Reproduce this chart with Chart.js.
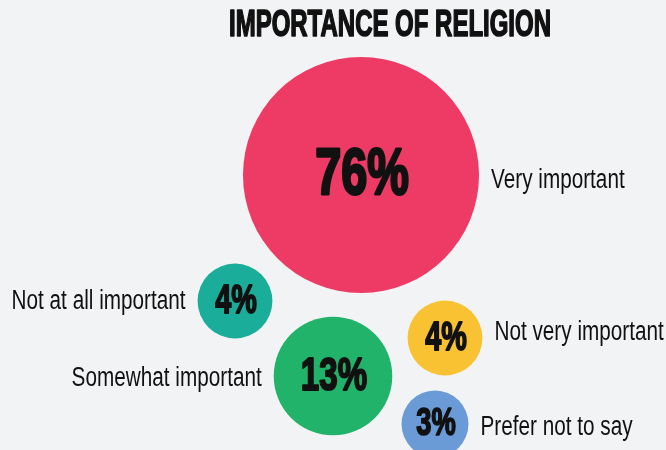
<!DOCTYPE html>
<html>
<head>
<meta charset="utf-8">
<script src="https://cdn.jsdelivr.net/npm/chart.js@4"></script>
<style>
  body { margin: 0; background: #f1f3f5; }
  #wrap { width: 666px; height: 450px; }
</style>
</head>
<body>
<div id="wrap"><canvas id="chart" width="666" height="450"></canvas></div>
<script>
const title = 'IMPORTANCE OF RELIGION';
const categories = ['Very important', 'Not at all important', 'Somewhat important', 'Not very important', 'Prefer not to say'];
const shares = [76, 4, 13, 4, 3];

// layout of the bubbles (canvas-sized units) and the side each label goes on
const bubbleX = [361, 235, 333, 445, 435];
const bubbleY = [175, 301, 376, 338, 424];
const labelSide = ['right', 'left', 'left', 'right', 'right'];
const labelDy = [5, 0, 2, -6, 3];
const colors = ['#ee3b65', '#1aae9a', '#22b36a', '#f8c233', '#6a9bd6'];

// bubble size grows with the share, but not strictly by area (as in the original)
function radiusFor(v) {
  return 21.8 * Math.pow(v, 0.39);
}

// draw text squeezed horizontally to fake a condensed face; weight adds a stroke
function drawSqueezed(ctx, text, x, y, font, sx, align, weight) {
  ctx.save();
  ctx.font = font;
  ctx.textAlign = align;
  ctx.textBaseline = 'middle';
  ctx.translate(x, y);
  ctx.scale(sx, 1);
  ctx.fillText(text, 0, 0);
  if (weight) {
    ctx.lineWidth = weight;
    ctx.lineJoin = 'round';
    ctx.strokeStyle = ctx.fillStyle;
    ctx.strokeText(text, 0, 0);
  }
  ctx.restore();
}

const textPlugin = {
  id: 'bubbleText',
  afterDatasetsDraw(chart) {
    const ctx = chart.ctx;
    ctx.save();
    ctx.fillStyle = '#111';

    // title, fitted to its width in the original
    const titleFont = 'bold 36px "Liberation Sans", Arial, sans-serif';
    ctx.font = titleFont;
    const tw = ctx.measureText(title).width;
    drawSqueezed(ctx, title, 390, 26, titleFont, 322 / tw, 'center', 1.6);

    const labelFont = '27px "Liberation Sans", Arial, sans-serif';
    ctx.font = labelFont;
    const labelScale = 174 / ctx.measureText('Not at all important').width;

    const meta = chart.getDatasetMeta(0);
    meta.data.forEach((pt, i) => {
      const r = pt.options.radius;
      const size = Math.round(28 + 0.31 * r);
      drawSqueezed(ctx, shares[i] + '%', pt.x + 1, pt.y + 1,
        'bold ' + size + 'px "Liberation Sans", Arial, sans-serif', 0.72, 'center', size / 22);

      const gap = 12;
      const ly = pt.y + 1 + labelDy[i];
      if (labelSide[i] === 'right') {
        drawSqueezed(ctx, categories[i], pt.x + r + gap, ly, labelFont, labelScale, 'left');
      } else {
        drawSqueezed(ctx, categories[i], pt.x - r - gap, ly, labelFont, labelScale, 'right');
      }
    });
    ctx.restore();
  }
};

const ctx = document.getElementById('chart').getContext('2d');
new Chart(ctx, {
  type: 'bubble',
  data: {
    datasets: [{
      label: title,
      data: categories.map((c, i) => ({ x: bubbleX[i], y: bubbleY[i], r: radiusFor(shares[i]) })),
      backgroundColor: colors,
      borderWidth: 0,
      clip: false
    }]
  },
  options: {
    responsive: false,
    animation: false,
    events: [],
    layout: { padding: 0, autoPadding: false },
    plugins: {
      legend: { display: false },
      tooltip: { enabled: false }
    },
    scales: {
      x: { type: 'linear', min: 0, max: 666, display: false },
      y: { type: 'linear', min: 0, max: 450, reverse: true, display: false }
    }
  },
  plugins: [textPlugin]
});
</script>
</body>
</html>
